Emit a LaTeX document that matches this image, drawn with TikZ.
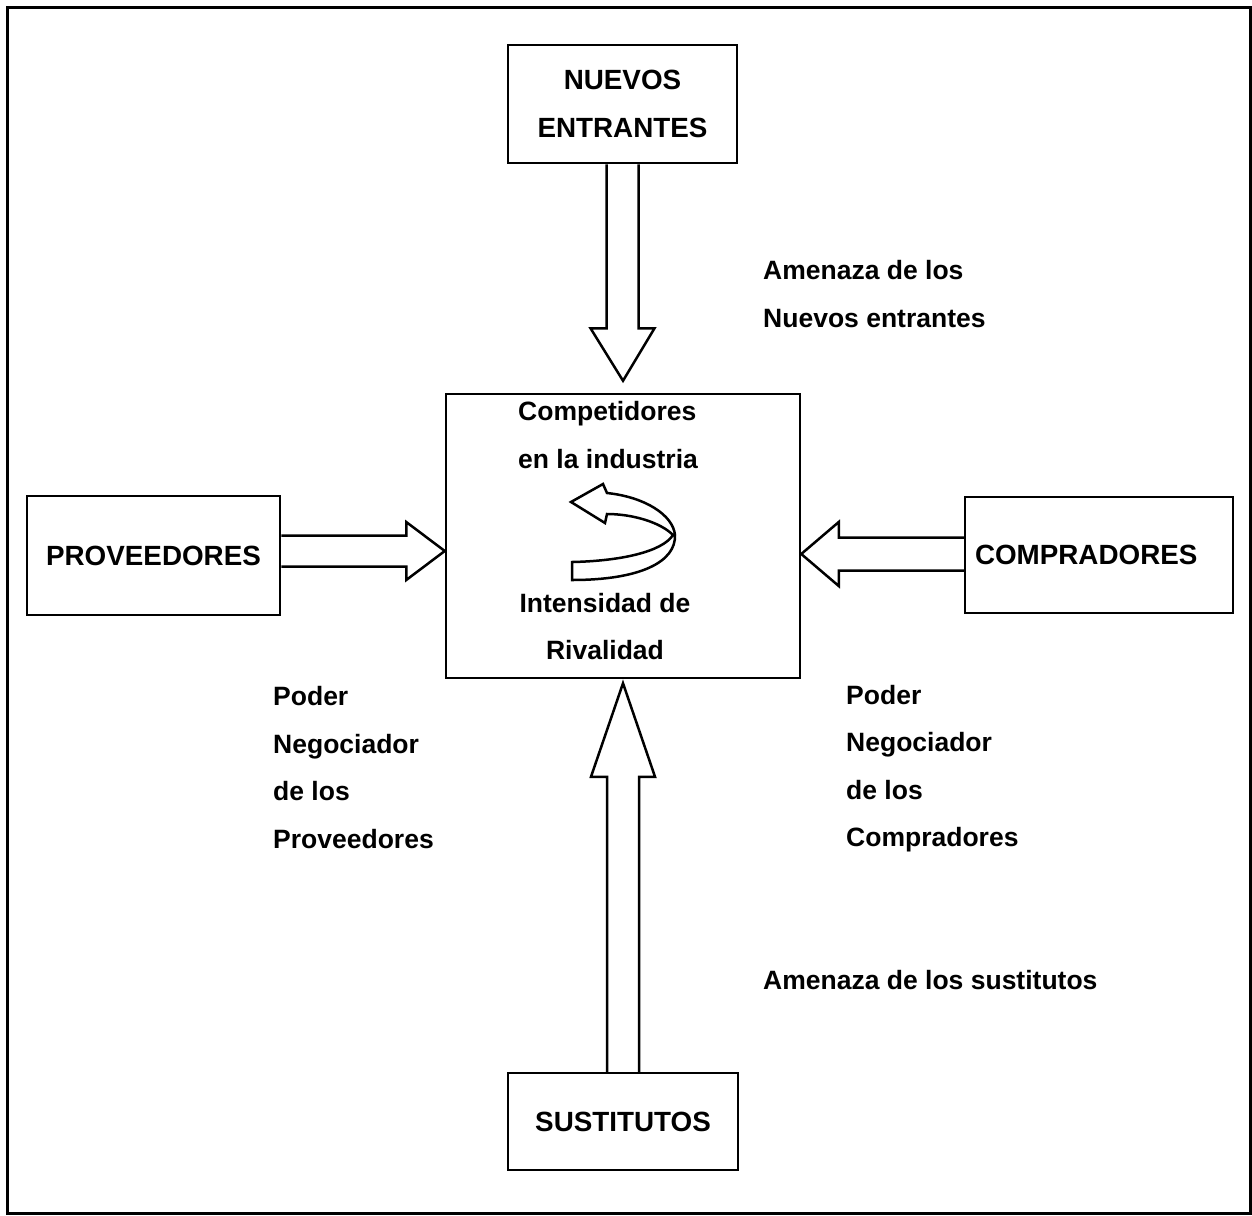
\documentclass[tikz,border=0pt]{standalone}
\usepackage{fontspec}
\setmainfont{Liberation Sans}
\usetikzlibrary{calc}

\newcommand\lblfont{\bfseries\fontsize{26.5}{47.5}\selectfont}
\newcommand\boxfont{\bfseries\fontsize{27.8}{48}\selectfont}

\begin{document}
\begin{tikzpicture}[x=1pt,y=-1pt,
  line join=miter,
  frame/.style={draw=black, line width=3pt},
  box/.style={draw=black, line width=2.5pt, fill=white, inner sep=0pt, font=\boxfont},
  blockarrow/.style={draw=black, line width=2.5pt, fill=white},
  lbl/.style={inner sep=0pt, font=\lblfont, align=left, anchor=base west},
]
\useasboundingbox (0,0) rectangle (1252,1215);
\draw[frame] (7,8) rectangle (1250,1213);

% the five forces
\node[box, minimum width=229pt, minimum height=118pt, align=center] (nuevos) at (622.5,104) {NUEVOS\\ENTRANTES};
\node[box, minimum width=354pt, minimum height=284pt] (core) at (623,536) {};
\node[box, minimum width=253pt, minimum height=119pt] (prov) at (153.5,555.5) {PROVEEDORES};
\node[box, minimum width=268pt, minimum height=116pt, text width=248pt, inner xsep=10pt, align=left] (comp) at (1099,555) {COMPRADORES};
\node[box, minimum width=230pt, minimum height=97pt] (sust) at (623,1121.5) {SUSTITUTOS};

% block arrows towards the industry
\draw[blockarrow] ($(nuevos.south)+(-16,0)$) -- ($(nuevos.south)+(-16,164)$) -- ($(nuevos.south)+(-32,164)$)
  -- ($(core.north)+(0,-12)$) -- ($(nuevos.south)+(32,164)$) -- ($(nuevos.south)+(16,164)$) -- ($(nuevos.south)+(16,0)$);

\draw[blockarrow] ($(sust.north)+(-16,0)$) -- ($(sust.north)+(-16,-295)$) -- ($(sust.north)+(-32,-295)$)
  -- ($(core.south)+(0,4)$) -- ($(sust.north)+(32,-295)$) -- ($(sust.north)+(16,-295)$) -- ($(sust.north)+(16,0)$);

\coordinate (pa) at ($(prov.east)+(0,-4.5)$);
\draw[blockarrow] ($(pa)+(0,-15.5)$) -- ($(pa)+(125,-15.5)$) -- ($(pa)+(125,-29)$)
  -- (core.west |- pa) -- ($(pa)+(125,29)$) -- ($(pa)+(125,15.5)$) -- ($(pa)+(0,15.5)$);

\coordinate (ca) at ($(comp.west)+(0,-1)$);
\draw[blockarrow] ($(ca)+(0,-16.5)$) -- ($(ca)+(-125,-16.5)$) -- ($(ca)+(-125,-32)$)
  -- (core.east |- ca) -- ($(ca)+(-125,32)$) -- ($(ca)+(-125,16.5)$) -- ($(ca)+(0,16.5)$);

% rivalry: curled ribbon arrow inside the industry box
\begin{scope}[shift={(core.center)}]
\draw[blockarrow] (-52,-34) -- (-20,-52) -- (-16,-43)
  .. controls (22,-39) and (50,-21) .. (52,-1)
  .. controls (53,26) and (17,44) .. (-51,44)
  -- (-51,26)
  .. controls (-3,25) and (39,16) .. (50,-1)
  .. controls (37,-14) and (9,-22) .. (-16,-22)
  -- (-18,-13) -- cycle;
\end{scope}

% captions (anchored on the baseline of their last line)
\node[lbl] (compet) at (518,468) {Competidores\\en la industria};
\node[lbl, align=center, anchor=base] (rival) at (605,659.5) {Intensidad de\\Rivalidad};
\node[lbl] (amenN) at (763,327) {Amenaza de los\\Nuevos entrantes};
\node[lbl] (podP) at (273,848) {Poder\\Negociador\\de los\\Proveedores};
\node[lbl] (podC) at (846,846.5) {Poder\\Negociador\\de los\\Compradores};
\node[lbl] (amenS) at (763,989) {Amenaza de los sustitutos};
\end{tikzpicture}
\end{document}
